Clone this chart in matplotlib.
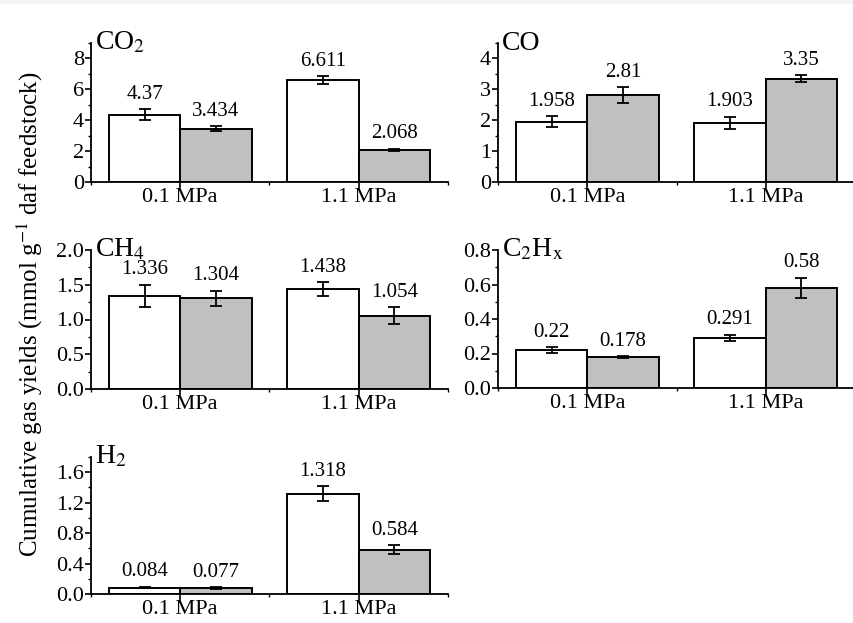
import matplotlib
matplotlib.use("Agg")
import matplotlib.pyplot as plt
from matplotlib.ticker import MultipleLocator
from matplotlib.patches import Rectangle

plt.rcParams['font.family'] = ['Liberation Serif', 'DejaVu Serif']
plt.rcParams['mathtext.fontset'] = 'stix'

pressures = ['0.1 MPa', '1.1 MPa']

gases = ['CO$_2$', 'CO', 'CH$_4$', 'C$_2$H$_\\mathrm{x}$', 'H$_2$']
white_vals = [[4.37, 6.611], [1.958, 1.903], [1.336, 1.438], [0.22, 0.291], [0.084, 1.318]]
gray_vals = [[3.434, 2.068], [2.81, 3.35], [1.304, 1.054], [0.178, 0.58], [0.077, 0.584]]
white_err = [[0.35, 0.24], [0.17, 0.2], [0.16, 0.1], [0.015, 0.018], [0.01, 0.095]]
gray_err = [[0.16, 0.07], [0.25, 0.1], [0.11, 0.12], [0.005, 0.06], [0.01, 0.058]]
white_lbl = [['4.37', '6.611'], ['1.958', '1.903'], ['1.336', '1.438'], ['0.22', '0.291'], ['0.084', '1.318']]
gray_lbl = [['3.434', '2.068'], ['2.81', '3.35'], ['1.304', '1.054'], ['0.178', '0.58'], ['0.077', '0.584']]

ylims = [9, 4.5, 2.0, 0.8, 1.8]
major = [2, 1, 0.5, 0.2, 0.4]
minor = [1, 0.5, 0.25, 0.1, 0.2]
fmts = ['%d', '%d', '%.1f', '%.1f', '%.1f']

W, H = 854, 623
fig = plt.figure(figsize=(W / 100, H / 100), dpi=100)
fig.patches.append(Rectangle((0, 1 - 4 / H), 1, 4 / H, transform=fig.transFigure,
                             facecolor='#f3f4f6', edgecolor='none'))

# axes boxes in pixels: left, top, bottom
boxes = [(91, 43, 182), (498, 43, 182), (91, 250, 389), (498, 250, 388), (91, 457, 594)]
aw = 357

for i, g in enumerate(gases):
    l, t, b = boxes[i]
    ax = fig.add_axes([l / W, 1 - b / H, aw / W, (b - t) / H])
    x = [0, 1]
    bw = 0.4
    xw = [xx - bw / 2 for xx in x]
    xg = [xx + bw / 2 for xx in x]
    ax.bar(xw, white_vals[i], bw, color='white', edgecolor='black', linewidth=1.4, zorder=2)
    ax.bar(xg, gray_vals[i], bw, color='#c0c0c0', edgecolor='black', linewidth=1.4, zorder=2)
    ax.errorbar(xw, white_vals[i], yerr=white_err[i], fmt='none', ecolor='black',
                elinewidth=1.3, capsize=4.5, capthick=1.3, zorder=3)
    ax.errorbar(xg, gray_vals[i], yerr=gray_err[i], fmt='none', ecolor='black',
                elinewidth=1.3, capsize=4.5, capthick=1.3, zorder=3)
    for xx, v, e, s in zip(xw, white_vals[i], white_err[i], white_lbl[i]):
        ax.annotate(s, (xx, v + e), xytext=(0, 4), textcoords='offset points',
                    ha='center', va='bottom', fontsize=15)
    for xx, v, e, s in zip(xg, gray_vals[i], gray_err[i], gray_lbl[i]):
        ax.annotate(s, (xx, v + e), xytext=(0, 4), textcoords='offset points',
                    ha='center', va='bottom', fontsize=15)
    ax.set_xlim(-0.5, 1.5)
    ax.set_ylim(0, ylims[i])
    ax.set_xticks(x)
    ax.set_xticklabels(pressures, fontsize=16)
    ax.xaxis.set_minor_locator(MultipleLocator(0.5))
    ax.yaxis.set_major_locator(MultipleLocator(major[i]))
    ax.yaxis.set_minor_locator(MultipleLocator(minor[i]))
    ax.yaxis.set_major_formatter(matplotlib.ticker.FormatStrFormatter(fmts[i]))
    ax.tick_params(axis='y', labelsize=16, pad=1)
    ax.tick_params(axis='x', pad=0)
    ax.tick_params(which='major', length=4, width=1.2, direction='out')
    ax.tick_params(which='minor', length=2, width=1.0, direction='out')
    ax.spines['top'].set_visible(False)
    ax.spines['right'].set_visible(False)
    ax.spines['left'].set_linewidth(1.3)
    ax.spines['bottom'].set_linewidth(1.3)
    ax.text(0.01, 1.0, g, transform=ax.transAxes, ha='left', va='center', fontsize=20)
    ax.patch.set_alpha(0)

fig.text(0.035, 0.495, 'Cumulative gas yields (mmol g$^{-1}$ daf feedstock)',
         rotation=90, ha='center', va='center', fontsize=18)

fig.savefig('out.png', dpi=100)
